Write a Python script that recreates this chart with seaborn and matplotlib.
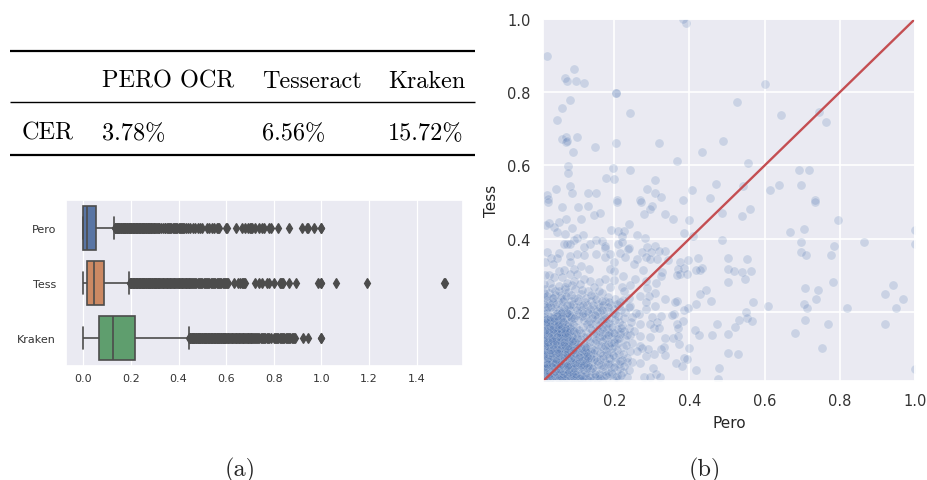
import numpy as np
import pandas as pd
import matplotlib
matplotlib.use("Agg")
import matplotlib.pyplot as plt
import seaborn as sns

# ---------- table ----------
table_cols = ["PERO OCR", "Tesseract", "Kraken"]
table_row = "CER"
table_vals = ["3.78%", "6.56%", "15.72%"]
captions = ["(a)", "(b)"]

# ---------- box plot data: quartile summary values with repeat counts, plus read-off outliers ----------
engines = ["Pero", "Tess", "Kraken"]
body_counts = [1500, 2000, 3000, 2000, 1500]
pero_body = [0.0, 0.0, 0.017, 0.052, 0.122]
tess_body = [0.0, 0.017, 0.044, 0.088, 0.19]
kraken_body = [0.0, 0.066, 0.126, 0.217, 0.44]
pero_out = [.124,.127,.13,.132,.135,.137,.14,.142,.145,.147,.15,.152,.155,.157,.16,.162,.165,.167,.17,.172,.175,.177,.18,.182,.185,.187,.19,.192,.195,.197,.2,.202,.205,.207,.21,.212,.215,.217,.22,.222,.225,.227,.23,.232,.235,.237,.24,.242,.245,.247,.25,.252,.255,.257,.26,.262,.265,.267,.27,.272,.275,.277,.28,.283,.286,.289,.292,.295,.298,.301,.304,.308,.312,.316,.32,.325,.335,.342,.345,.35,.355,.36,.365,.37,.375,.38,.385,.39,.395,.4,.405,.41,.415,.42,.425,.43,.44,.45,.46,.47,.48,.49,.5,.52,.53,.54,.55,.56,.565,.57,.6,.605,.64,.665,.68,.69,.7,.705,.71,.72,.74,.75,.76,.78,.79,.82,.865,.92,.94,.945,.97,1.0,1.0]
tess_out = [.192,.195,.197,.2,.202,.205,.207,.21,.212,.215,.217,.22,.222,.225,.227,.23,.232,.235,.237,.24,.242,.245,.247,.25,.252,.255,.257,.26,.262,.265,.267,.27,.272,.275,.277,.28,.282,.285,.287,.29,.292,.295,.297,.3,.302,.305,.307,.31,.312,.315,.317,.32,.323,.326,.33,.333,.336,.34,.343,.346,.35,.353,.356,.36,.363,.366,.37,.373,.376,.38,.383,.386,.39,.393,.396,.4,.403,.406,.41,.413,.416,.42,.423,.426,.43,.433,.436,.44,.443,.446,.45,.454,.458,.462,.466,.47,.475,.48,.485,.49,.495,.5,.505,.51,.515,.52,.525,.53,.535,.54,.545,.55,.555,.56,.565,.57,.575,.58,.585,.59,.595,.6,.605,.61,.635,.65,.66,.665,.67,.675,.68,.72,.74,.75,.77,.78,.8,.825,.83,.835,.84,.865,.895,.985,1.0,1.0,1.06,1.19,1.515,1.52]
kraken_out = [.442,.445,.447,.45,.452,.455,.457,.46,.462,.465,.467,.47,.472,.475,.477,.48,.482,.485,.487,.49,.492,.495,.497,.5,.502,.505,.507,.51,.512,.515,.517,.52,.522,.525,.527,.53,.532,.535,.537,.54,.542,.545,.547,.55,.552,.555,.557,.56,.562,.565,.567,.57,.572,.575,.577,.58,.582,.585,.587,.59,.592,.595,.597,.6,.603,.606,.61,.613,.616,.62,.623,.626,.63,.633,.636,.64,.643,.646,.65,.653,.656,.66,.663,.666,.67,.673,.676,.68,.683,.686,.69,.693,.696,.7,.703,.706,.71,.714,.718,.722,.726,.73,.735,.74,.745,.75,.755,.76,.765,.77,.775,.78,.79,.8,.805,.81,.815,.82,.825,.83,.835,.84,.845,.85,.855,.86,.865,.87,.875,.88,.885,.89,.925,.945,1.0,1.0]

# ---------- scatter data: (Pero, Tess), in thousandths ----------
sparse_pts = [(21,899),(92,864),(70,839),(75,832),(97,831),(118,826),(205,799),(205,797),(81,778),(61,758),(47,723),(241,743),(61,672),(72,679),(72,663),(74,668),(100,677),(91,638),(149,649),(205,661),(319,661),(490,668),(434,636),(367,611),(77,598),(77,579),(197,592),(241,588),(177,566),(200,562),(308,559),(83,544),(44,535),(87,524),(22,518),(131,524),(152,524),(286,536),(308,525),(325,514),(406,533),(471,550),(455,512),(392,990),(384,999),(206,506),(269,506),(384,506),(23,507),
(602,822),(527,774),(643,738),(745,745),(763,718),(555,608),(543,543),(691,587),(719,588),(638,547),(698,547),(614,532),(733,506),(735,501),(561,481),(540,463),(794,450),(704,426),(668,418),(1000,425),(697,391),(863,390),(999,385),(785,379),(698,364),(711,355),(776,355),(502,346),(553,345),(502,316),(518,311),(540,309),(564,313),(549,290),(502,281),(783,281),(707,265),(743,260),(941,273),(919,250),(969,234),(949,211),(736,236),(570,228),(705,222),(713,211),(609,215),(818,211),(551,200),(552,184),(531,177),(567,174),(521,160),(707,177),(768,167),(919,167),(680,143),(502,140),(752,100),(502,88),(529,84),(999,44),
(23,501),(60,486),(103,486),(129,488),(206,501),(270,501),(301,490),(296,481),(280,466),(147,464),(163,470),(71,453),(110,455),(334,468),(356,453),(400,451),(486,470),(52,446),(25,444),(19,437),(240,441),(88,428),(39,431),(48,417),(70,412),(192,424),(210,422),(225,421),(220,408),(116,411),(259,410),(281,401),(386,415),(408,408),(486,395),(101,403),(92,397),(150,395),(167,394),(74,385),(83,385),(65,385),(136,385),(119,376),(209,385),(220,391),(238,374),(236,373),(174,379),(174,374),(309,380),(287,376),(274,364),(334,367),(318,365),(298,364),(21,364),(52,362),(83,353),(101,358),(119,355),(150,358),(174,349),(188,358),(214,360),(229,351),(259,344),(283,349),(296,344),(314,344),(342,342),(376,335),(395,342),(423,347),(32,346),(48,346),(16,335),(36,330),(83,335),(110,326),(132,317),(200,335),(252,332),(276,315),(386,321),(369,317),(376,303),(367,300),(393,303),(432,321),(427,315),(417,314),(327,309),(324,297),(52,312),(65,315),(92,317),(189,317),(198,312),(25,300),(39,294),(61,294),(83,303),(101,303),(222,297),(256,289),(283,285),(312,278),(30,280),(92,285),(119,289),(134,285),(158,282),(176,289),(198,288),(243,274),(287,264),(189,269),(220,269),(225,258),(88,273),(70,267),
(309,251),(291,244),(269,244),(334,235),(367,230),(362,226),(445,260),(429,250),(458,229),(417,222),(395,211),(386,206),(358,194),(353,191),(324,189),(382,175),(367,166),(369,157),(473,166),(424,136),(415,151),(460,136),(334,128),(356,130),(369,135),(400,100),(371,111),(331,103),(324,98),(305,86),(334,83),(385,75),(393,71),(364,60),(381,53),(417,41),(478,48),(476,16),(312,30),(280,23),(296,21),(322,21),(303,48),(285,80),(269,60),(234,21),(294,132),(269,134),(267,166),(300,185),(314,171),(305,157),(318,157),(296,166),(283,207),(307,217),(283,226),(265,194),(257,198),(243,217),(238,239),(240,212),(212,217),(216,226),(269,107),(274,100),(289,98),(260,94),(247,62),(234,64),(216,48),(212,84),(234,75),(238,157),(216,144),(243,136),(229,125),(247,116),(212,171),(189,166),(181,153),(185,107),(172,125),(198,125),(189,57),(188,71),(203,62),(206,25),(185,34),(172,25),(158,25)]

mid_pts = [(15,262),(27,251),(41,258),(58,247),(77,255),(96,262),(112,249),(131,258),(147,243),(168,252),(183,240),(203,236),(18,233),(33,238),(49,226),(66,234),(84,229),(103,237),(121,226),(139,231),(157,222),(174,229),(192,219),(224,233),(14,214),(29,220),(44,209),(61,216),(79,207),(97,213),(113,204),(128,218),(146,208),(163,213),(181,202),(199,209),(228,199),(22,197),(37,203),(54,192),(71,199),(88,188),(106,196),(123,186),(141,194),(156,186),(173,193),(191,183),(210,190),(226,182),(247,186),
(132,176),(148,168),(166,174),(183,170),(201,177),(221,164),(244,172),(136,157),(153,150),(171,158),(194,146),(207,152),(226,148),(142,139),(158,132),(176,141),(193,134),(212,129),(233,137),(131,122),(149,115),(167,120),(184,112),(203,108),(222,103),(138,102),(155,94),(172,99),(191,90),(208,96),(224,86),(134,83),(151,76),(169,81),(186,73),(203,78),(221,69),(140,64),(157,57),(175,62),(192,49),(207,41),(224,36),(133,46),(150,39),(168,44),(180,21),(136,27),(153,18),(166,14),(196,15),(213,18),(142,13),(126,16),(120,32)]

extra_pts = [(14,241),(36,228),(59,238),(74,218),(52,205),(31,212),(91,222),(109,216),(127,203),(144,219),(22,181),(47,196),(66,183),(83,205),(99,191),(118,178),(137,169),(155,181),(12,197),(27,225),(43,247),(68,262),(86,245),(104,229),(125,239),(152,236),(171,218),(186,226),(207,221),(19,206),(39,190),(62,201),(77,189),(114,189),(131,196),(161,199),(178,183),(197,196),(218,205),
(141,150),(125,144),(162,145),(179,163),(147,129),(128,131),(116,160),(135,118),(157,109),(121,97),(144,87),(162,70),(127,68),(116,53),(146,52),(171,51),(122,24),(139,38),(160,31),(126,108),(145,72),(179,92),(165,106),(198,118),(179,130),(195,101),(210,114),(158,165),(172,180),(195,160),(214,140),(186,145),(152,142),(168,134),(181,84),(196,83),(213,57),(176,38),(193,29),(148,22),(164,55),(131,58),(121,72),(117,88),(108,118),(119,131),(111,141),(137,92),
(11,24),(18,44),(28,64),(37,54),(46,46),(55,34),(65,26),(75,41),(86,49),(97,21),(15,98),(24,107),(33,117),(42,102),(51,91),(61,118),(71,107),(82,93),(92,114),(104,102),(19,136),(29,149),(38,127),(48,155),(58,144),(67,127),(78,143),(88,151),(99,137),(14,165),(31,174),(46,159),(62,176),(79,169),(12,13),(27,13),(44,12),(63,13),(82,12),(101,13),(119,12),(131,14),(12,37),(12,61),(12,83),(12,122),(12,148),(13,187),(13,222),(14,252),(14,275),(16,300),(58,66),(72,58),(91,72),(110,62),(34,72),(49,83),(66,94),(85,103),(42,124),(56,136),(73,150),(90,129),(37,142),(53,168),(68,158),
(135,22),(149,31),(163,20),(177,27),(191,36),(205,22),(219,28),(141,47),(155,66),(170,73),(184,58),(199,50),(215,66),(147,95),(161,88),(176,108),(192,114),(206,126),(129,88),(137,75),(152,122),(166,152),(183,136),(199,142),(217,156),(231,109),(225,53),(238,41),(242,93),(251,148),
(23,213),(44,222),(63,229),(81,218),(101,206),(117,219),(135,209),(153,203),(21,243),(38,239),(54,256),(72,244),(93,238),(114,259),(139,246),(160,257),(33,266),(52,272),(74,279),(108,276),(146,268),(166,231),(184,212),(203,195),(140,184),(128,166),(148,192),(166,205),(116,196),(102,177),
(62,188),(71,181),(79,193),(86,176),(69,168),(77,161),(85,187),(94,182),(66,210),(75,198),(57,196),(90,168),(82,157),(97,158),(106,150),(100,142),(92,147),(110,126),(118,112),(125,101),
(17,24),(28,20),(41,29),(58,22),(78,31),(23,52),(38,67),(50,53),(66,60),(85,40),(19,82),(30,98),(44,88),(60,102),(76,88),(17,114),(32,126),(46,114),(63,134),(80,116),(24,152),(42,148),(60,146),(20,170),(36,184)]

core_pts = [(13,18),(21,14),(31,17),(38,13),(49,19),(57,14),(68,16),(76,13),(87,18),(94,14),(106,17),(114,13),(24,22),(43,25),(62,23),(81,26),(99,24),(117,21),(12,29),(19,33),(29,27),(36,34),(47,31),(54,28),(66,35),(73,29),(84,33),(91,30),(103,36),(111,28),(124,33),(15,41),(25,38),(33,44),(42,39),(51,43),(60,38),(69,45),(78,40),(88,44),(96,39),(107,45),(116,41),(127,46),(13,52),(22,49),(30,55),(39,50),(47,56),(56,51),(64,54),(74,49),(82,56),(92,51),(101,55),(110,50),(120,56),(129,52),(17,60),(26,63),(35,59),(44,64),(53,60),(61,66),(70,61),(79,65),(89,60),(98,66),(106,61),(115,65),(125,60),(12,70),(21,72),(31,68),(40,74),(49,69),(58,75),(67,71),(76,73),(85,69),(94,75),(103,70),(112,74),(122,71),(131,74),(16,80),(25,83),(34,79),(43,84),(52,80),(62,85),(71,80),(81,84),(90,80),(99,85),(108,81),(118,84),(127,80),(13,90),(22,93),(31,89),(40,94),(50,90),(59,95),(68,91),(77,94),(86,90),(96,95),(105,91),(114,94),(124,90),(18,101),(27,104),(36,100),(46,105),(55,101),(64,106),(73,100),(83,105),(92,101),(101,106),(111,102),(121,105),(12,112),(21,115),(30,111),(39,116),(48,112),(58,117),(67,111),(76,116),(85,112),(95,117),(104,112),(16,123),(26,126),(35,122),(44,127),(53,123),(62,128),(72,122),(81,127),(90,123),(100,128),(13,134),(22,137),(31,133),(40,138),(50,134),(59,139),(68,133),(78,138),(87,134),(18,145),(27,148),(37,144),(46,149),(55,145),(65,150),(74,144),(83,149),(13,156),(23,159),(32,155),(41,160),(51,156),(60,161),(70,155),(16,167),(26,170),(35,166),(44,171),(54,167),(64,172),(12,178),(21,181),(30,177),(40,182),(49,178),(58,183),
(17,15),(34,21),(52,16),(71,20),(90,25),(108,19),(26,31),(44,36),(63,30),(80,37),(98,31),(15,47),(35,49),(55,45),(74,52),(93,46),(112,54),(20,57),(41,60),(59,58),(77,56),(96,60),(24,75),(45,70),(65,78),(84,74),(105,77),(14,85),(33,87),(54,88),(74,86),(95,88),(28,97),(48,98),(69,99),(89,97),(16,108),(37,109),(57,110),(78,108),(24,119),(45,120),(66,118),(87,120),(14,129),(34,130),(55,131),(75,131),(26,141),(47,142),(68,141),(15,151),(36,152),(57,153),(28,162),(49,163),(18,173),(39,174),(28,187),(48,190)]

# ---------- figure ----------
sns.set_theme(style="darkgrid")
W, H = 928, 481
fig = plt.figure(figsize=(W / 100, H / 100), dpi=100, facecolor="white")

def px_axes(left, top, right, bottom):
    return fig.add_axes([left / W, (H - bottom) / H, (right - left) / W, (bottom - top) / H])

# table and captions
ax_t = fig.add_axes([0, 0, 1, 1])
ax_t.set_xlim(0, W)
ax_t.set_ylim(H, 0)
ax_t.axis("off")
cm = dict(family="cmr10", color="black", va="baseline", ha="left", fontsize=17.5)
for yy, lw in zip([52, 103.3, 155.5], [1.6, 1.0, 1.6]):
    ax_t.plot([10, 475], [yy, yy], color="black", lw=lw, solid_capstyle="butt")
for xx, col, val in zip([102, 262, 388], table_cols, table_vals):
    ax_t.text(xx, 88, col, **cm)
    ax_t.text(xx, 140, val, **cm)
ax_t.text(22, 140, table_row, **cm)
ax_t.text(240, 476, captions[0], family="cmr10", fontsize=17.5, ha="center", va="baseline")
ax_t.text(705, 476, captions[1], family="cmr10", fontsize=17.5, ha="center", va="baseline")

# box plot
def expand(body, out):
    return np.concatenate([np.repeat(body, body_counts), out])

frame = pd.DataFrame({
    "engine": np.repeat(engines, [sum(body_counts) + len(o) for o in (pero_out, tess_out, kraken_out)]),
    "cer": np.concatenate([expand(pero_body, pero_out), expand(tess_body, tess_out), expand(kraken_body, kraken_out)]),
})
ax_b = px_axes(65.7, 201, 462.7, 366.7)
sns.boxplot(data=frame, x="cer", y="engine", hue="engine", order=engines, legend=False,
            linewidth=1.2, linecolor="#4c4c4c", fliersize=5.2,
            flierprops=dict(marker="d", markerfacecolor="#4c4c4c", markeredgecolor="#4c4c4c", markeredgewidth=0.9), ax=ax_b)
ax_b.set_xlim(-0.074, 1.594)
ax_b.set_xticks(np.arange(0, 1.5, 0.2))
ax_b.set_xlabel("")
ax_b.set_ylabel("")
ax_b.tick_params(axis="x", labelsize=8, pad=5, length=0, labelcolor="#333333")
ax_b.tick_params(axis="y", labelsize=8, pad=7, length=0, labelcolor="#333333")
ax_b.grid(True, axis="x", color="white", lw=0.9)
ax_b.grid(False, axis="y")

# scatter
pts = np.array(sparse_pts + mid_pts + extra_pts + core_pts) / 1000
ax_s = px_axes(543.3, 20, 915, 381.7)
sns.scatterplot(x=pts[:, 0], y=pts[:, 1], s=42, alpha=0.2, color="#4c72b0", ax=ax_s)
sns.lineplot(x=[0.011, 1.0], y=[0.011, 1.0], color="#c44e52", lw=1.7, ax=ax_s)
ax_s.set_xlim(0.011, 1.0)
ax_s.set_ylim(0.012, 1.0)
ax_s.set_xticks([0.2, 0.4, 0.6, 0.8, 1.0])
ax_s.set_yticks([0.2, 0.4, 0.6, 0.8, 1.0])
ax_s.set_xlabel("Pero", fontsize=11, labelpad=5)
ax_s.set_ylabel("Tess", fontsize=11, labelpad=6)
ax_s.tick_params(labelsize=10.5, length=0, pad=9, labelcolor="#333333")
ax_s.grid(True, color="white", lw=1.2)

fig.savefig("out.png", dpi=100)
